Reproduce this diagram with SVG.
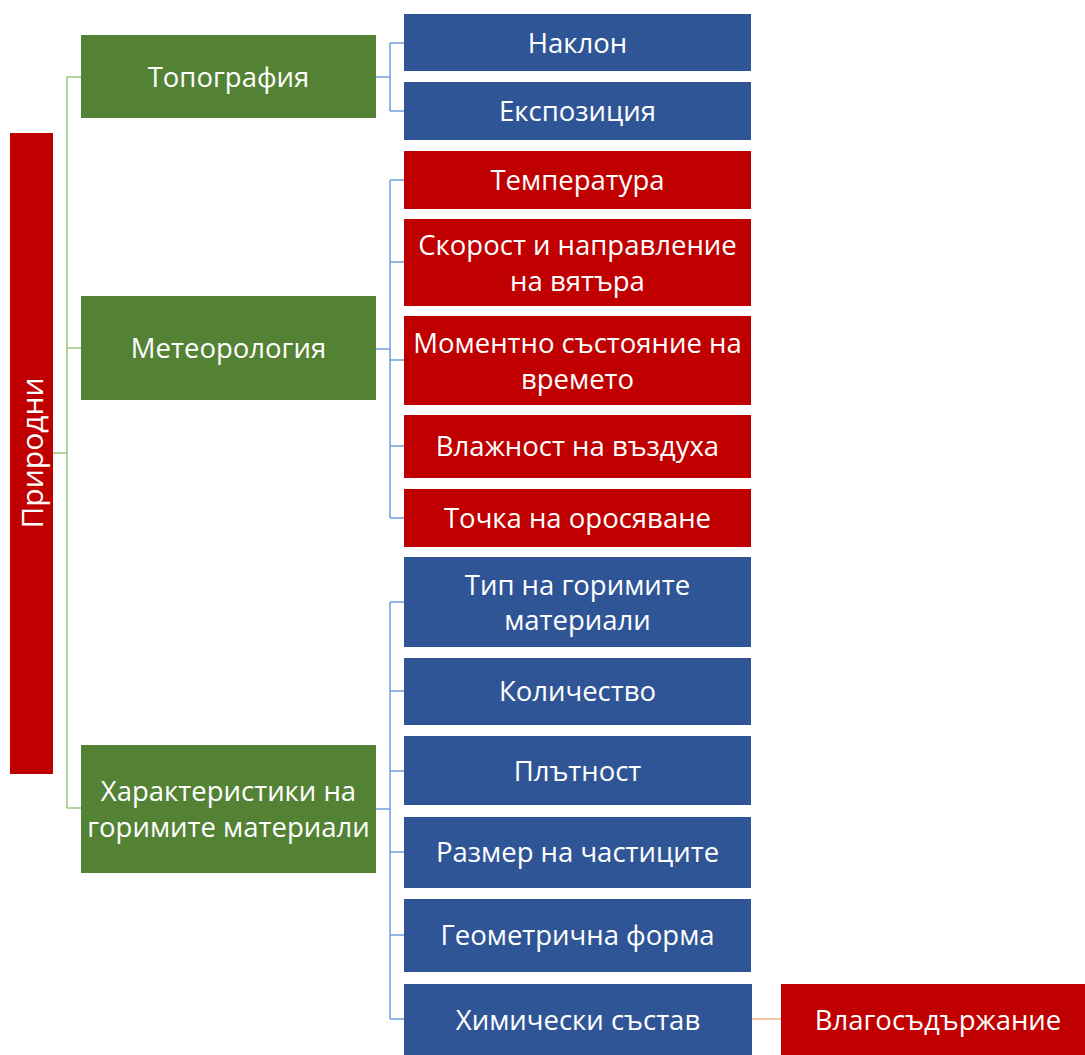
<svg xmlns="http://www.w3.org/2000/svg" width="1085" height="1055" viewBox="0 0 1085 1055">
<style>
.g{fill:#548235}.b{fill:#2F5597}.r{fill:#C00000}
text{font-family:"Open Sans","Liberation Sans",sans-serif;font-size:27.5px;fill:#fff;text-anchor:middle;dominant-baseline:central}
.big{font-size:30px}
.cg{stroke:#9CC87E;stroke-width:1.5;fill:none}
.cb{stroke:#6FA0DA;stroke-width:1.5;fill:none}
.co{stroke:#F4B183;stroke-width:1.5;fill:none}
</style>
<rect width="1085" height="1055" fill="#fff"/>
<g id="connectors">
<path class="cg" d="M53 453H67M67 77V808M67 77H81M67 348H81M67 808H81"/>
<path class="cb" d="M376 77H390M390 43V111M390 43H404M390 111H404"/>
<path class="cb" d="M376 349H390M390 180V518M390 180H404M390 262H404M390 360H404M390 446H404M390 518H404"/>
<path class="cb" d="M376 809H390M390 602V1019M390 602H404M390 691H404M390 771H404M390 852H404M390 935H404M390 1019H404"/>
<path class="co" d="M752 1019H781"/>
</g>
<g id="root"><rect class="r" x="10" y="133" width="43" height="641"/><text class="big" transform="translate(31 453) rotate(-90)">Природни</text></g>
<g id="topo"><rect class="g" x="81" y="35" width="295" height="83"/><text x="228.5" y="76">Топография</text></g>
<g id="meteo"><rect class="g" x="81" y="296" width="295" height="104"/><text x="228.5" y="347">Метеорология</text></g>
<g id="fuel"><rect class="g" x="81" y="745" width="295" height="128"/><text x="228.5" y="790">Характеристики на</text><text x="228.5" y="826">горимите материали</text></g>
<g id="naklon"><rect class="b" x="404" y="14" width="347" height="57"/><text x="577.5" y="42">Наклон</text></g>
<g id="expo"><rect class="b" x="404" y="82" width="347" height="58"/><text x="577.5" y="110">Експозиция</text></g>
<g id="temp"><rect class="r" x="404" y="151" width="347" height="58"/><text x="577.5" y="179">Температура</text></g>
<g id="wind"><rect class="r" x="404" y="219" width="347" height="87"/><text x="577.5" y="244">Скорост и направление</text><text x="577.5" y="280">на вятъра</text></g>
<g id="weather"><rect class="r" x="404" y="316" width="347" height="89"/><text x="577.5" y="342">Моментно състояние на</text><text x="577.5" y="378">времето</text></g>
<g id="humid"><rect class="r" x="404" y="415" width="347" height="63"/><text x="577.5" y="445">Влажност на въздуха</text></g>
<g id="dew"><rect class="r" x="404" y="489" width="347" height="58"/><text x="577.5" y="517">Точка на оросяване</text></g>
<g id="type"><rect class="b" x="404" y="557" width="347" height="90"/><text x="577.5" y="584">Тип на горимите</text><text x="577.5" y="619">материали</text></g>
<g id="qty"><rect class="b" x="404" y="658" width="347" height="67"/><text x="577.5" y="690">Количество</text></g>
<g id="dens"><rect class="b" x="404" y="736" width="347" height="69"/><text x="577.5" y="770">Плътност</text></g>
<g id="size"><rect class="b" x="404" y="817" width="347" height="71"/><text x="577.5" y="851">Размер на частиците</text></g>
<g id="geom"><rect class="b" x="404" y="899" width="347" height="73"/><text x="577.5" y="934">Геометрична форма</text></g>
<g id="chem"><rect class="b" x="404" y="984" width="348" height="71"/><text x="578" y="1019">Химически състав</text></g>
<g id="moist"><rect class="r" x="781" y="984" width="304" height="71"/><text x="938" y="1019">Влагосъдържание</text></g>
</svg>
